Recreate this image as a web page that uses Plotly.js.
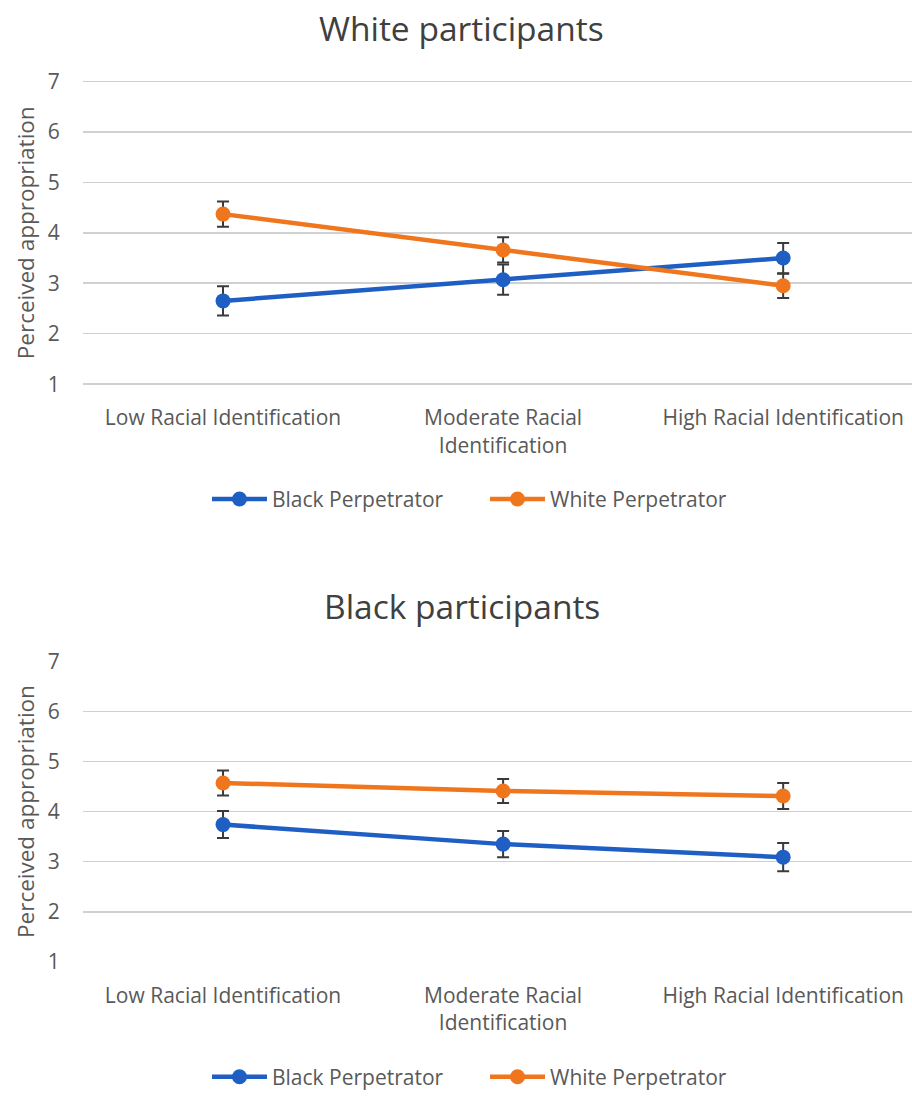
<!DOCTYPE html>
<html><head><meta charset="utf-8">
<script src="https://cdn.plot.ly/plotly-3.0.1.min.js"></script>
<style>html,body{margin:0;padding:0;background:#fff}#chart{width:912px;height:1098px}</style>
</head><body><div id="chart"></div>
<script>
const categories = ["Low Racial Identification", "Moderate Racial<br>Identification", "High Racial Identification"];
const seriesNames = ["Black Perpetrator", "White Perpetrator"];
// White participants
const whiteP_black = [2.65, 3.07, 3.50];
const whiteP_black_err = [0.29, 0.30, 0.30];
const whiteP_white = [4.37, 3.66, 2.95];
const whiteP_white_err = [0.25, 0.25, 0.24];
// Black participants
const blackP_black = [3.74, 3.35, 3.09];
const blackP_black_err = [0.27, 0.26, 0.28];
const blackP_white = [4.57, 4.41, 4.31];
const blackP_white_err = [0.25, 0.24, 0.26];
const yTicks = [1, 2, 3, 4, 5, 6, 7];
const titles = ["White participants", "Black participants"];
const yTitle = "Perceived appropriation";

const BLUE = "#1F5FC4", ORANGE = "#F0761E";
const FONT = "Open Sans, Noto Sans, sans-serif";

function tr(y, err, name, color, xa, ya, leg) {
  return {
    x: categories, y: y, name: name, type: "scatter", mode: "lines+markers",
    xaxis: xa, yaxis: ya, legend: leg, cliponaxis: false,
    line: {color: color, width: 4.5},
    marker: {color: color, size: 15},
    error_y: {type: "data", array: err, visible: true, color: "#3a3a3a", thickness: 2, width: 6}
  };
}
const data = [
  tr(whiteP_black, whiteP_black_err, seriesNames[0], BLUE, "x", "y", "legend"),
  tr(whiteP_white, whiteP_white_err, seriesNames[1], ORANGE, "x", "y", "legend"),
  tr(blackP_black, blackP_black_err, seriesNames[0], BLUE, "x2", "y2", "legend2"),
  tr(blackP_white, blackP_white_err, seriesNames[1], ORANGE, "x2", "y2", "legend2")
];
const H = 1098, W = 912;
const py = p => 1 - p / H;
const px = p => p / W;
function xaxis(anchor) {
  return {domain: [px(83), 1], anchor: anchor, range: [-0.5, 2.46], type: "category",
    showgrid: false, zeroline: false, showline: false, ticks: "outside", ticklen: 14, tickcolor: "rgba(0,0,0,0)",
    tickfont: {family: FONT, size: 21, color: "#595959"}, automargin: false};
}
function yaxis(anchor, top, bot) {
  return {domain: [py(bot + 1), py(top - 1)], anchor: anchor, range: [0.98, 7.02], tickvals: yTicks,
    showgrid: true, gridcolor: "#d0d0d0", gridwidth: 1.5, zeroline: false, showline: false,
    ticks: "outside", ticklen: 18, tickcolor: "rgba(0,0,0,0)",
    tickfont: {family: FONT, size: 21, color: "#595959"},
    title: {text: yTitle, font: {family: FONT, size: 22.5, color: "#595959"}, standoff: 6},
    automargin: false};
}
const legFont = {family: FONT, size: 21, color: "#595959"};
const layout = {
  width: W, height: H, margin: {l: 0, r: 0, t: 0, b: 0},
  paper_bgcolor: "#fff", plot_bgcolor: "#fff",
  font: {family: FONT, color: "#595959"},
  xaxis: xaxis("y"), yaxis: yaxis("x", 82, 387),
  xaxis2: xaxis("y2"), yaxis2: yaxis("x2", 666, 969),
  showlegend: true,
  legend: {orientation: "h", x: px(207), xanchor: "left", y: py(503), yanchor: "middle",
    font: legFont, itemwidth: 55, tracegroupgap: 0, entrywidth: 208},
  legend2: {orientation: "h", x: px(207), xanchor: "left", y: py(1085), yanchor: "middle",
    font: legFont, itemwidth: 55, tracegroupgap: 0, entrywidth: 208},
  annotations: [
    {text: titles[0], xref: "paper", yref: "paper", x: px(462), y: py(28), xanchor: "center", yanchor: "middle", showarrow: false, font: {family: FONT, size: 33.5, color: "#404040"}},
    {text: titles[1], xref: "paper", yref: "paper", x: px(462), y: py(610), xanchor: "center", yanchor: "middle", showarrow: false, font: {family: FONT, size: 33.5, color: "#404040"}}
  ]
};
Plotly.newPlot("chart", data, layout, {displayModeBar: false, staticPlot: true});
</script></body></html>
